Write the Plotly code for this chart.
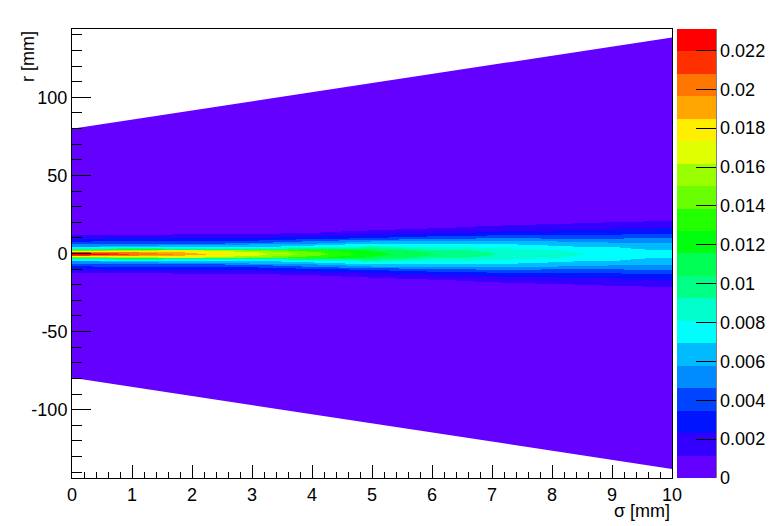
import colorsys
import plotly.graph_objects as go

# ---------------- data ----------------
sigma_mm = [0, 0.5, 1, 1.5, 2, 3, 4, 5, 6, 7, 8, 9, 10]
r_abs_mm = [0, 1, 2, 3, 4, 5, 6, 7, 8, 10, 12, 14, 17, 20, 23, 26, 30, 145]

# value vs |r| (same order as r_abs_mm) for each sigma column
z_s0_0 = [.0230, .0212, .0140, .0092, .0070, .0055, .0047, .0039, .0034, .0022, .0012, .0006, .0004, .0003, .0002, .0002, .0002, .0001]
z_s0_5 = [.0223, .0205, .0148, .0102, .0075, .0058, .0048, .0040, .0035, .0023, .0012, .0006, .0004, .0003, .0002, .0002, .0002, .0001]
z_s1_0 = [.0206, .0198, .0160, .0112, .0081, .0062, .0050, .0042, .0035, .0024, .0013, .0007, .0004, .0003, .0002, .0002, .0002, .0001]
z_s1_5 = [.0200, .0190, .0162, .0105, .0080, .0064, .0052, .0043, .0036, .0024, .0013, .0008, .0004, .0003, .0002, .0002, .0002, .0001]
z_s2_0 = [.0190, .0183, .0165, .0095, .0075, .0064, .0053, .0044, .0037, .0025, .0014, .0008, .0004, .0003, .0002, .0002, .0002, .0001]
z_s3_0 = [.0167, .0164, .0148, .0100, .0077, .0066, .0058, .0048, .0038, .0025, .0014, .0008, .0005, .0003, .0002, .0002, .0002, .0001]
z_s4_0 = [.0145, .0142, .0132, .0105, .0085, .0073, .0065, .0057, .0048, .0031, .0018, .0011, .0005, .0003, .0002, .0002, .0002, .0001]
z_s5_0 = [.0120, .0118, .0113, .0105, .0094, .0083, .0073, .0066, .0058, .0037, .0024, .0015, .0007, .0004, .0002, .0002, .0002, .0001]
z_s6_0 = [.0105, .0103, .0098, .0090, .0083, .0077, .0071, .0065, .0059, .0044, .0031, .0019, .0010, .0005, .0003, .0002, .0002, .0001]
z_s7_0 = [.0093, .0092, .0089, .0085, .0080, .0075, .0071, .0065, .0059, .0047, .0035, .0025, .0014, .0007, .0004, .0002, .0002, .0001]
z_s8_0 = [.0085, .0084, .0082, .0079, .0075, .0071, .0067, .0063, .0058, .0046, .0036, .0027, .0017, .0009, .0005, .0003, .0002, .0001]
z_s9_0 = [.0077, .0076, .0074, .0072, .0070, .0066, .0063, .0060, .0055, .0046, .0037, .0029, .0019, .0012, .0006, .0004, .0002, .0001]
z_s10_0 = [.0072, .0071, .0070, .0067, .0064, .0062, .0060, .0058, .0054, .0047, .0039, .0031, .0022, .0014, .0008, .0005, .0003, .0001]

# outer edge of the filled region (upper / lower)
edge_sigma = [0, 10]
edge_r_top = [79.8, 138.3]
edge_r_bottom = [-79.6, -137.9]

z_max = 0.0231
n_levels = 20
cbar_tickvals = [0, 0.002, 0.004, 0.006, 0.008, 0.01, 0.012, 0.014, 0.016, 0.018, 0.02, 0.022]
y_tickvals = [-100, -50, 0, 50, 100]
y_ticktext = ["-100", "-50", "0", "50", "100"]
x_tickvals = [0, 1, 2, 3, 4, 5, 6, 7, 8, 9, 10]
x_ticktext = ["0", "1", "2", "3", "4", "5", "6", "7", "8", "9", "10"]

# ---------------- build grid ----------------
columns = [z_s0_0, z_s0_5, z_s1_0, z_s1_5, z_s2_0, z_s3_0, z_s4_0, z_s5_0,
           z_s6_0, z_s7_0, z_s8_0, z_s9_0, z_s10_0]
r_full = [-v for v in r_abs_mm[:0:-1]] + r_abs_mm
row_index = list(range(len(r_abs_mm) - 1, 0, -1)) + list(range(len(r_abs_mm)))
z_grid = [[col[i] for col in columns] for i in row_index]

# ROOT-like rainbow palette (50 colours, 20 contours)
def root_color(icol):
    idx = int((icol + 0.99) * 50 / n_levels)
    hue = 280.0 * (1 - (idx + 1) / 50.0)
    r, g, b = colorsys.hls_to_rgb(hue / 360.0, 0.5, 1.0)
    return "rgb(%d,%d,%d)" % (round(r * 255), round(g * 255), round(b * 255))

colorscale = []
for k in range(n_levels):
    c = root_color(k)
    colorscale.append([k / n_levels, c])
    colorscale.append([(k + 1) / n_levels, c])

FONT = "Liberation Sans, Arial, Helvetica, sans-serif"
FS = 18
OFF = 8  # page body margin of the browser
W, H = 777 - 2 * OFF, 526 - OFF
ML, MT = 72 - OFF, 29 - OFF
PW, PH = 600, 449
MR = W - ML - PW
MB = H - MT - PH
cb_left_px = 677 - OFF
cb_thick = 39
cb_x = (cb_left_px - ML) / PW

fig = go.Figure()
fig.add_trace(go.Heatmap(
    x=sigma_mm, y=r_full, z=z_grid, zsmooth="best",
    zmin=0, zmax=z_max, colorscale=colorscale,
    colorbar=dict(
        x=cb_x, xanchor="left", xpad=0, ypad=0,
        y=0.5, yanchor="middle", len=1, lenmode="fraction",
        thickness=cb_thick, thicknessmode="pixels",
        outlinewidth=0,
        tickmode="array", tickvals=cbar_tickvals,
        ticks="inside", ticklen=20, tickwidth=1, tickcolor="black",
        tickfont=dict(family=FONT, size=FS, color="black"),
    ),
    hoverinfo="skip",
))

# white areas outside the filled region
fig.add_trace(go.Scatter(
    x=edge_sigma + edge_sigma[::-1],
    y=edge_r_top + [400] * len(edge_sigma),
    fill="toself", fillcolor="white", mode="none", hoverinfo="skip", showlegend=False,
))
fig.add_trace(go.Scatter(
    x=edge_sigma + edge_sigma[::-1],
    y=edge_r_bottom + [-400] * len(edge_sigma),
    fill="toself", fillcolor="white", mode="none", hoverinfo="skip", showlegend=False,
))

axis_common = dict(
    showgrid=False, zeroline=False, showline=True, linecolor="black", linewidth=1,
    mirror=True, ticks="inside", tickcolor="black", tickwidth=1,
    tickfont=dict(family=FONT, size=FS, color="black"),
)
fig.update_xaxes(range=[0, 10], tickmode="array", tickvals=x_tickvals, ticktext=x_ticktext,
                 ticklen=13,
                 minor=dict(dtick=0.2, tick0=0, ticks="inside", ticklen=6, tickcolor="black", showgrid=False),
                 **axis_common)
fig.update_yaxes(range=[-143.7, 143.7], tickmode="array", tickvals=y_tickvals, ticktext=y_ticktext,
                 ticklen=19,
                 minor=dict(dtick=10, tick0=0, ticks="inside", ticklen=10, tickcolor="black", showgrid=False),
                 **axis_common)

fig.update_layout(
    width=W, height=H, autosize=False,
    margin=dict(l=ML, r=MR, t=MT, b=MB, pad=0, autoexpand=False),
    paper_bgcolor="white", plot_bgcolor="white",
    showlegend=False,
    font=dict(family=FONT, size=FS, color="black"),
    shapes=[dict(type="line", xref="paper", yref="paper",
                 x0=cb_x + cb_thick / PW, x1=cb_x + cb_thick / PW, y0=0, y1=1,
                 line=dict(color="black", width=1))],
    annotations=[
        dict(text="r [mm]", textangle=-90, xref="paper", yref="paper",
             x=(27.5 - 72) / PW, y=1.0, xanchor="center", yanchor="top",
             showarrow=False, font=dict(family=FONT, size=FS, color="black")),
        dict(text="σ [mm]", xref="paper", yref="paper",
             x=1.0, y=-(511 - 478) / PH, xanchor="right", yanchor="middle",
             showarrow=False, font=dict(family=FONT, size=FS, color="black")),
    ],
)

fig.write_html("out.html")
